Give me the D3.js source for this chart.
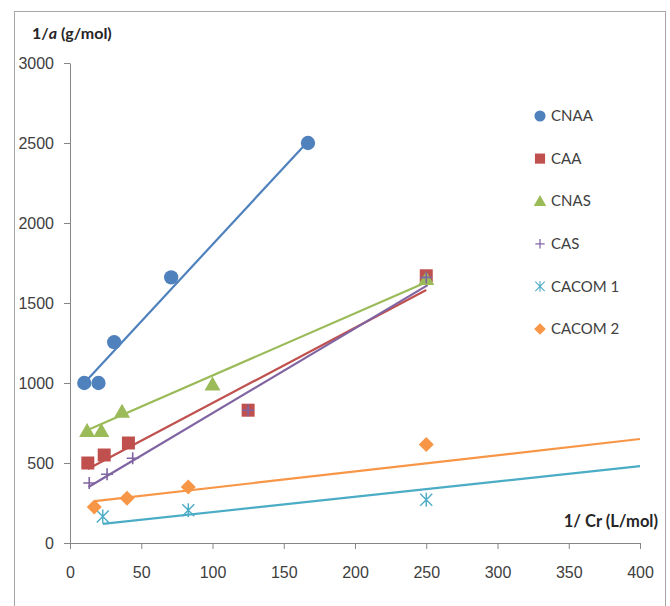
<!DOCTYPE html>
<html>
<head>
<meta charset="utf-8">
<script src="https://cdn.jsdelivr.net/npm/d3@7"></script>
<style>
  body { margin: 0; background: #fff; }
  svg { display: block; font-family: Lato, "Open Sans", sans-serif; }
</style>
</head>
<body>
<div id="chart"></div>
<script>
// series (x = 1/Cr, y = 1/a)
const seriesNames = ['CNAA', 'CAA', 'CNAS', 'CAS', 'CACOM 1', 'CACOM 2'];
const seriesColors = ['#4F81BD', '#C0504D', '#9BBB59', '#8064A2', '#4BACC6', '#F79646'];
const seriesSymbols = ['circle', 'square', 'triangle', 'plus', 'star', 'diamond'];

const cnaaX = [10, 20, 31, 71, 167];
const cnaaY = [1000, 1000, 1255, 1660, 2500];
const caaX = [12.5, 24, 41, 125, 250];
const caaY = [500, 550, 625, 830, 1670];
const cnasX = [12, 22, 36.5, 100, 250];
const cnasY = [700, 700, 820, 990, 1650];
const casX = [13.5, 26, 44, 125, 250];
const casY = [375, 430, 530, 830, 1660];
const cacom1X = [23, 83, 250];
const cacom1Y = [165, 205, 270];
const cacom2X = [17, 40, 83, 250];
const cacom2Y = [225, 280, 350, 615];

// trend line end points [x0, y0, x1, y1]
const trendLines = [
  [10, 1000, 167, 2510],
  [12.5, 462, 250, 1581],
  [12, 705, 250, 1630],
  [13, 350, 251, 1612],
  [23, 119, 400, 481],
  [17.5, 262, 400, 650]
];

const xTicks = [0, 50, 100, 150, 200, 250, 300, 350, 400];
const yTicks = [0, 500, 1000, 1500, 2000, 2500, 3000];

const allX = [cnaaX, caaX, cnasX, casX, cacom1X, cacom2X];
const allY = [cnaaY, caaY, cnasY, casY, cacom1Y, cacom2Y];

const width = 670, height = 606;
const svg = d3.select('#chart').append('svg')
  .attr('width', width)
  .attr('height', height);

// outer chart frame
svg.append('rect')
  .attr('x', 14.5).attr('y', 11.5)
  .attr('width', 651).attr('height', 620)
  .attr('fill', 'none')
  .attr('stroke', '#a6a6a6')
  .attr('stroke-width', 1);

const x = d3.scaleLinear().domain([0, 400]).range([70, 640]);
const y = d3.scaleLinear().domain([0, 3000]).range([543, 63]);

const xAxis = svg.append('g')
  .attr('transform', 'translate(0,543)')
  .call(d3.axisBottom(x).tickValues(xTicks).tickFormat(d3.format('d'))
    .tickSize(6).tickPadding(18).tickSizeOuter(0));
const yAxis = svg.append('g')
  .attr('transform', 'translate(70,0)')
  .call(d3.axisLeft(y).tickValues(yTicks).tickFormat(d3.format('d'))
    .tickSize(6).tickPadding(10).tickSizeOuter(0));

[xAxis, yAxis].forEach(a => {
  a.select('.domain').attr('stroke', '#868686');
  a.selectAll('.tick line').attr('stroke', '#868686');
  a.selectAll('.tick text')
    .attr('fill', '#404040')
    .style('font-size', '16px');
});

// axis titles
const yTitle = svg.append('text')
  .attr('x', 32).attr('y', 39)
  .attr('fill', '#262626')
  .style('font-size', '16px')
  .style('font-weight', 'bold');
yTitle.append('tspan').text('1/');
yTitle.append('tspan').style('font-style', 'italic').text('a');
yTitle.append('tspan').text(' (g/mol)');

svg.append('text')
  .attr('x', 658).attr('y', 527)
  .attr('text-anchor', 'end')
  .attr('fill', '#262626')
  .style('font-size', '16.5px')
  .style('font-weight', 'bold')
  .text('1/ Cr (L/mol)');

// marker drawing
function drawMarker(g, type, color) {
  if (type === 'circle') {
    g.append('path').attr('d', d3.symbol(d3.symbolCircle, 160)()).attr('fill', color);
  } else if (type === 'square') {
    g.append('path').attr('d', d3.symbol(d3.symbolSquare, 169)()).attr('fill', color);
  } else if (type === 'triangle') {
    g.append('path').attr('d', 'M0,-8L8,6H-8Z').attr('fill', color);
  } else if (type === 'diamond') {
    g.append('path').attr('d', 'M0,-7.5L7.5,0L0,7.5L-7.5,0Z').attr('fill', color);
  } else if (type === 'plus') {
    g.append('path').attr('d', 'M-6,0H6M0,-6V6')
      .attr('stroke', color).attr('stroke-width', 1.6).attr('fill', 'none');
  } else if (type === 'star') {
    g.append('path').attr('d', 'M0,-7V7M-6,-6L6,6M6,-6L-6,6')
      .attr('stroke', color).attr('stroke-width', 1.4).attr('fill', 'none');
  }
}

// trend lines under markers
svg.append('g').selectAll('line')
  .data(trendLines)
  .join('line')
  .attr('x1', d => x(d[0])).attr('y1', d => y(d[1]))
  .attr('x2', d => x(d[2])).attr('y2', d => y(d[3]))
  .attr('stroke', (d, i) => seriesColors[i])
  .attr('stroke-width', 2.2);

// markers
seriesNames.forEach((name, i) => {
  const pts = allX[i].map((v, j) => [v, allY[i][j]]);
  const g = svg.append('g').attr('class', 'series');
  pts.forEach(p => {
    const m = g.append('g').attr('transform', `translate(${x(p[0])},${y(p[1])})`);
    drawMarker(m, seriesSymbols[i], seriesColors[i]);
  });
});

// legend
const legend = svg.append('g');
seriesNames.forEach((name, i) => {
  const row = legend.append('g').attr('transform', `translate(540,${116 + i * 42.6})`);
  const m = row.append('g').attr('transform', 'scale(0.78)');
  drawMarker(m, seriesSymbols[i], seriesColors[i]);
  row.append('text')
    .attr('x', 11).attr('y', 0)
    .attr('dy', '0.35em')
    .attr('fill', '#404040')
    .style('font-size', '15px')
    .text(name);
});
</script>
</body>
</html>
